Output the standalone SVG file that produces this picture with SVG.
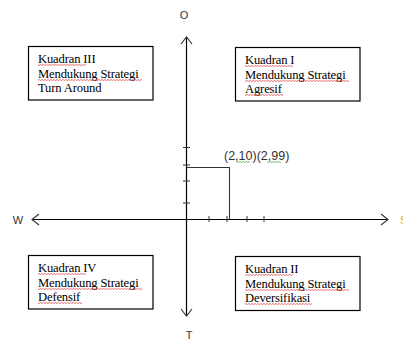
<svg xmlns="http://www.w3.org/2000/svg" width="403" height="340" viewBox="0 0 403 340">
<style>
.box{fill:#fff;stroke:#000;stroke-width:1.2}
.bt{font-family:"Liberation Serif",serif;font-size:12.6px;fill:#000;letter-spacing:-0.15px}
.lbl{font-family:"Liberation Sans",sans-serif;font-size:11px;fill:#333}
.ax{stroke:#000;stroke-width:1.2;fill:none}
.tk{stroke:#333;stroke-width:1}
.ah{fill:none;stroke:#333;stroke-width:1.1}
.sq{fill:url(#red)}
.gq{fill:url(#green)}
</style>
<defs>
<pattern id="red" width="3" height="2" patternUnits="userSpaceOnUse">
<path d="M0,1.5 L1.5,0.5 L3,1.5" fill="none" stroke="#e03030" stroke-width="0.7"/>
</pattern>
<pattern id="green" width="3" height="2" patternUnits="userSpaceOnUse">
<path d="M0,1.5 L1.5,0.5 L3,1.5" fill="none" stroke="#3a9a3a" stroke-width="0.7"/>
</pattern>
</defs>
<rect width="403" height="340" fill="#fff"/>
<g id="connectors">
<line class="ax" x1="186.5" y1="37" x2="186.5" y2="316" stroke="#555"/>
<line class="ax" x1="32" y1="219.5" x2="388" y2="219.5"/>
<path class="ah" d="M181,44 L186.5,37 L192,44"/>
<path class="ah" d="M181,309 L186.5,316 L192,309"/>
<path class="ah" d="M39,214 L32,219.5 L39,225"/>
<path class="ah" d="M381,214 L388,219.5 L381,225"/>
<line class="tk" x1="183" y1="147.5" x2="190" y2="147.5"/>
<line class="tk" x1="183" y1="165" x2="190" y2="165"/>
<line class="tk" x1="183" y1="181" x2="190" y2="181"/>
<line class="tk" x1="183" y1="203" x2="190" y2="203"/>
<line class="tk" x1="209" y1="216" x2="209" y2="222"/>
<line class="tk" x1="227" y1="216" x2="227" y2="222"/>
<line class="tk" x1="247" y1="216" x2="247" y2="222"/>
<line class="tk" x1="264" y1="216" x2="264" y2="222"/>
<path d="M187,167.5 L229.5,167.5 L229.5,219.5" fill="none" stroke="#333" stroke-width="1.1"/>
</g>
<g id="axis-labels">
<text class="lbl" x="184" y="19" text-anchor="middle">O</text>
<text class="lbl" x="189" y="339" text-anchor="middle">T</text>
<text class="lbl" x="18" y="224" text-anchor="middle">W</text>
<text class="lbl" x="400" y="224" style="fill:#e8a020">S</text>
</g>
<g id="point">
<text class="lbl" x="224" y="160" style="font-size:12.5px">(2,10)(2,99)</text>
<rect class="gq" x="236" y="161" width="14" height="2"/>
<rect class="gq" x="267" y="161" width="14" height="2"/>
</g>
<g id="kuadran3">
<rect class="box" x="28.5" y="46.5" width="124.5" height="53.5"/>
<text class="bt" x="38" y="63">Kuadran III</text>
<text class="bt" x="38" y="78">Mendukung Strategi</text>
<text class="bt" x="38" y="92">Turn Around</text>
<rect class="sq" x="38" y="64" width="48" height="2"/>
<rect class="sq" x="38" y="79" width="104" height="2"/>
</g>
<g id="kuadran1">
<rect class="box" x="235.5" y="47.5" width="124.5" height="53.5"/>
<text class="bt" x="245" y="64">Kuadran I</text>
<text class="bt" x="245" y="79">Mendukung Strategi</text>
<text class="bt" x="245" y="93">Agresif</text>
<rect class="sq" x="245" y="65" width="48" height="2"/>
<rect class="sq" x="245" y="80" width="104" height="2"/>
<rect class="sq" x="245" y="94" width="38" height="2"/>
</g>
<g id="kuadran4">
<rect class="box" x="28.5" y="255.5" width="124.5" height="53.5"/>
<text class="bt" x="38" y="272">Kuadran IV</text>
<text class="bt" x="38" y="287">Mendukung Strategi</text>
<text class="bt" x="38" y="301">Defensif</text>
<rect class="sq" x="38" y="273" width="48" height="2"/>
<rect class="sq" x="38" y="288" width="104" height="2"/>
<rect class="sq" x="38" y="302" width="44" height="2"/>
</g>
<g id="kuadran2">
<rect class="box" x="235.5" y="256.5" width="124.5" height="54"/>
<text class="bt" x="245" y="273">Kuadran II</text>
<text class="bt" x="245" y="288">Mendukung Strategi</text>
<text class="bt" x="245" y="302">Deversifikasi</text>
<rect class="sq" x="245" y="274" width="48" height="2"/>
<rect class="sq" x="245" y="289" width="104" height="2"/>
<rect class="sq" x="245" y="303" width="67" height="2"/>
</g>
</svg>
